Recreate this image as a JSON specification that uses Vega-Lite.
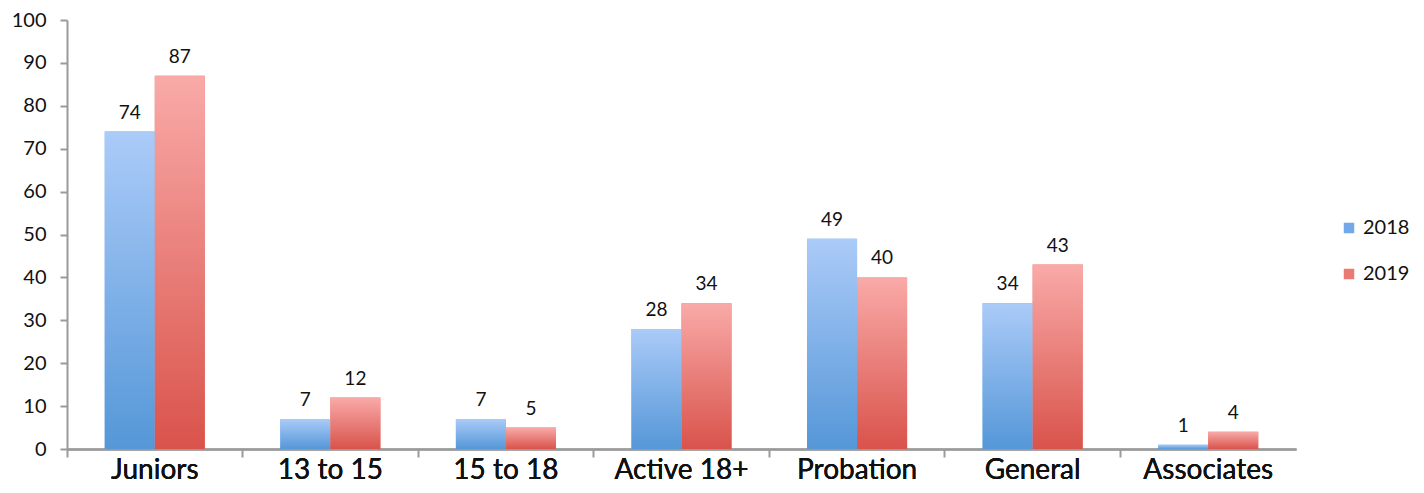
{
  "$schema": "https://vega.github.io/schema/vega-lite/v6.json",
  "width": 1229,
  "height": 429,
  "autosize": {"type": "none"},
  "padding": {"left": 67, "top": 20, "right": 128, "bottom": 44},
  "background": "white",
  "config": {"view": {"stroke": null}, "font": "Lato"},
  "data": {
    "values": [
      {"category": "Juniors", "year": "2018", "value": 74},
      {"category": "Juniors", "year": "2019", "value": 87},
      {"category": "13 to 15", "year": "2018", "value": 7},
      {"category": "13 to 15", "year": "2019", "value": 12},
      {"category": "15 to 18", "year": "2018", "value": 7},
      {"category": "15 to 18", "year": "2019", "value": 5},
      {"category": "Active 18+", "year": "2018", "value": 28},
      {"category": "Active 18+", "year": "2019", "value": 34},
      {"category": "Probation", "year": "2018", "value": 49},
      {"category": "Probation", "year": "2019", "value": 40},
      {"category": "General", "year": "2018", "value": 34},
      {"category": "General", "year": "2019", "value": 43},
      {"category": "Associates", "year": "2018", "value": 1},
      {"category": "Associates", "year": "2019", "value": 4}
    ]
  },
  "encoding": {
    "x": {
      "field": "category", "type": "nominal",
      "sort": ["Juniors", "13 to 15", "15 to 18", "Active 18+", "Probation", "General", "Associates"],
      "scale": {"paddingInner": 0.43, "paddingOuter": 0.215},
      "axis": {"title": null, "orient": "bottom", "labelAngle": 0, "labelFontSize": 28, "labelFontWeight": "normal", "labelColor": "#111", "labelPadding": 7, "ticks": false, "domainColor": "#9a9a9a", "domainWidth": 2}
    },
    "xOffset": {"field": "year", "type": "nominal", "sort": ["2018", "2019"]},
    "y": {
      "field": "value", "type": "quantitative",
      "scale": {"domain": [0, 100], "nice": false},
      "axis": {"title": null, "values": [0,10,20,30,40,50,60,70,80,90,100], "grid": false, "labelFontSize": 20, "labelColor": "#111", "labelPadding": 14, "tickSize": 7, "tickColor": "#9a9a9a", "tickWidth": 2, "domainColor": "#9a9a9a", "domainWidth": 2}
    }
  },
  "layer": [
    {
      "mark": {"type": "bar"},
      "encoding": {
        "color": {
          "field": "year", "type": "nominal",
          "scale": {"domain": ["2018", "2019"], "range": ["#72a9e8", "#eb7a75"]},
          "legend": {"title": null, "orient": "none", "legendX": 1272, "legendY": 198, "symbolType": "square", "symbolSize": 110, "labelFontSize": 20, "labelColor": "#111", "rowPadding": 26, "symbolStrokeWidth": 0}
        }
      }
    },
    {
      "transform": [{"filter": "datum.year === '2018'"}],
      "mark": {"type": "bar", "fill": {"gradient": "linear", "x1": 0, "y1": 0, "x2": 0, "y2": 1, "stops": [{"offset": 0, "color": "#abcbf8"}, {"offset": 1, "color": "#5597d8"}]}},
      "encoding": {
        "x": {
          "field": "category", "type": "nominal",
          "sort": ["Juniors", "13 to 15", "15 to 18", "Active 18+", "Probation", "General", "Associates"],
          "scale": {"paddingInner": 0.43, "paddingOuter": 0.215},
          "axis": {"title": null, "orient": "bottom", "labels": false, "domain": false, "ticks": true, "tickSize": 8, "tickColor": "#9a9a9a", "tickWidth": 2, "bandPosition": -0.377}
        }
      }
    },
    {
      "transform": [{"filter": "datum.year === '2019'"}],
      "mark": {"type": "bar", "fill": {"gradient": "linear", "x1": 0, "y1": 0, "x2": 0, "y2": 1, "stops": [{"offset": 0, "color": "#f9aaa8"}, {"offset": 1, "color": "#d9534b"}]}}
    },
    {
      "mark": {"type": "text", "baseline": "bottom", "dy": -9, "fontSize": 19, "color": "#111"},
      "encoding": {"text": {"field": "value", "type": "quantitative"}}
    }
  ],
  "resolve": {"axis": {"x": "independent"}}
}
